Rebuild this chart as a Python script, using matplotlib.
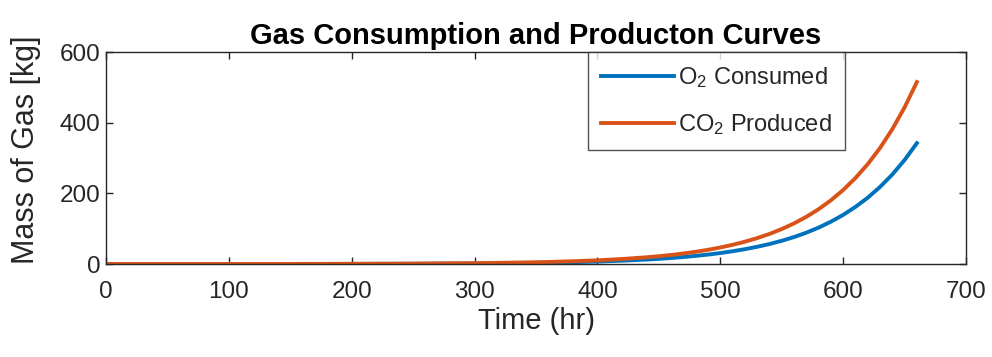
import matplotlib
matplotlib.use("Agg")
import matplotlib.pyplot as plt
from matplotlib import font_manager

# Time samples (hr) and gas masses (kg)
time_hr = [0, 50, 100, 150, 200, 250, 300, 350, 380, 400, 420, 440, 450, 460,
           470, 480, 490, 500, 510, 520, 530, 540, 550, 560, 570, 580, 590,
           600, 610, 620, 630, 640, 650, 660]
co2_produced = [0.02, 0.05, 0.1, 0.2, 0.5, 1.1, 2.3, 4.9, 7.7, 10.4, 14.1, 19.0,
                22.1, 25.6, 29.8, 34.6, 40.2, 46.7, 54.3, 63.1, 73.3, 85.1, 98.9,
                114.9, 133.5, 155.1, 180.2, 209.4, 243.3, 282.6, 328.4, 381.5,
                443.3, 515.0]
o2_consumed = [0.01, 0.03, 0.07, 0.13, 0.3, 0.7, 1.5, 3.3, 5.1, 6.9, 9.4, 12.6,
               14.7, 17.0, 19.8, 23.0, 26.7, 31.0, 36.1, 41.9, 48.7, 56.5, 65.7,
               76.3, 88.6, 103.0, 119.7, 139.0, 161.6, 187.6, 218.1, 253.3,
               294.4, 342.0]

x_ticks = [0, 100, 200, 300, 400, 500, 600, 700]
y_ticks = [0, 200, 400, 600]

names = {f.name for f in font_manager.fontManager.ttflist}
regular = "Liberation Sans" if "Liberation Sans" in names else "DejaVu Sans"
plt.rcParams["font.family"] = [regular, "DejaVu Sans"]
plt.rcParams["mathtext.default"] = "regular"

ink = "#262626"
fig = plt.figure(figsize=(9.92, 3.57), dpi=100)
ax = fig.add_axes([0.1069, 0.2605, 0.8669, 0.5938])

ax.plot(time_hr, o2_consumed, color="#0072BD", lw=2.8, label=r"O$_2$ Consumed")
ax.plot(time_hr, co2_produced, color="#D95319", lw=2.8, label=r"CO$_2$ Produced")

ax.set_xlim(0, 700)
ax.set_ylim(0, 600)
ax.set_xticks(x_ticks)
ax.set_yticks(y_ticks)
ax.tick_params(direction="in", length=5, width=1.0, colors=ink,
               labelsize=17.5, top=True, right=True)
ax.tick_params(axis="x", pad=12)
ax.tick_params(axis="y", pad=4)
for s in ax.spines.values():
    s.set_color(ink)
    s.set_linewidth(1.0)

ax.set_xlabel("Time (hr)", fontsize=21, color=ink, labelpad=3)
ax.set_ylabel("Mass of Gas [kg]", fontsize=22, color=ink)
ax.yaxis.set_label_coords(-0.076, 0.538)
ax.set_title("Gas Consumption and Producton Curves", fontsize=21,
             fontweight="bold", color="black", pad=6)

leg = ax.legend(loc="upper left", bbox_to_anchor=(0.5605, 1.0), fontsize=17,
                frameon=True, fancybox=False, handlelength=3.1,
                handletextpad=0.15, borderpad=0.55, labelspacing=0.95,
                borderaxespad=0)
leg.get_frame().set_edgecolor(ink)
leg.get_frame().set_linewidth(1.0)
for t in leg.get_texts():
    t.set_color(ink)

fig.savefig("out.png", dpi=100)
